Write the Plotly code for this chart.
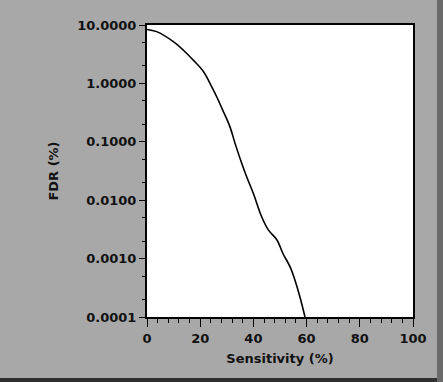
import plotly.graph_objects as go

sensitivity = [0, 3.6, 9.9, 13.7, 17.4, 21.2, 24.3, 26.2, 28.7, 31.2, 33.1, 35.6, 37.5,
               40.0, 43.1, 45.6, 48.8, 51.2, 53.8, 55.6, 57.5, 59.4]
fdr = [8.4, 7.7, 5.2, 3.7, 2.5, 1.6, 0.88, 0.59, 0.33, 0.18, 0.094, 0.043, 0.025,
       0.013, 0.0052, 0.0031, 0.0021, 0.0012, 0.00072, 0.00043, 0.00022, 0.0001]
y_tickvals = [0.0001, 0.001, 0.01, 0.1, 1, 10]
y_ticktext = ["0.0001", "0.0010", "0.0100", "0.1000", "1.0000", "10.0000"]
x_tickvals = [0, 20, 40, 60, 80, 100]

W, H = 443, 382
L, R, T, B = 147, 30, 25, 65
pw, ph = W - L - R, H - T - B

font = dict(family="DejaVu Sans", size=13, color="#111111")

fig = go.Figure()
fig.add_trace(go.Scatter(x=sensitivity, y=fdr, mode="lines",
                         line=dict(color="#000000", width=1.6, shape="spline", smoothing=1.0),
                         showlegend=False, hoverinfo="skip"))

def px2paper_x(px):
    return (px - L) / pw

def px2paper_y(py):
    return (H - B - py) / ph

fig.update_layout(
    width=W, height=H,
    margin=dict(l=L, r=R, t=T, b=B),
    paper_bgcolor="#a8a8a8",
    plot_bgcolor="#ffffff",
    font=font,
    xaxis=dict(range=[0, 100], tickvals=x_tickvals, ticks="outside", ticklen=8,
               tickwidth=1, tickcolor="#000", showgrid=False, zeroline=False,
               showline=True, linecolor="#000", linewidth=2, mirror=True,
               minor=dict(ticks="outside", ticklen=4, dtick=4, tickcolor="#000"),
               title=dict(text="Sensitivity (%)", standoff=9,
                          font=dict(size=13, family="DejaVu Sans", weight="bold")),
               tickfont=dict(size=13, family="DejaVu Sans", weight="bold")),
    yaxis=dict(type="log", range=[-4, 1], tickvals=y_tickvals, ticktext=y_ticktext,
               ticks="outside", ticklen=6, tickwidth=1, tickcolor="#000",
               showgrid=False, zeroline=False, showline=True, linecolor="#000",
               linewidth=2, mirror=True,
               minor=dict(ticks="outside", ticklen=3, tickcolor="#000", showgrid=False),
               title=dict(text="FDR (%)", standoff=16,
                          font=dict(size=13, family="DejaVu Sans", weight="bold")),
               tickfont=dict(size=13, family="DejaVu Sans", weight="bold")),
    shapes=[
        dict(type="rect", xref="paper", yref="paper",
             x0=px2paper_x(0), x1=px2paper_x(W), y0=px2paper_y(H), y1=px2paper_y(378),
             fillcolor="#303030", line=dict(width=0), layer="below"),
        dict(type="rect", xref="paper", yref="paper",
             x0=px2paper_x(437), x1=px2paper_x(W), y0=px2paper_y(H), y1=px2paper_y(0),
             fillcolor="#6a6a6a", line=dict(width=0), layer="below"),
    ],
)

fig.write_html("out.html", config={"displayModeBar": False},
               post_script="document.body.style.margin='0';")
